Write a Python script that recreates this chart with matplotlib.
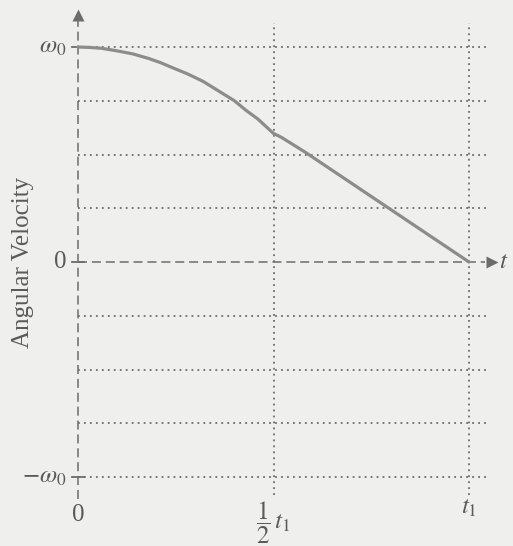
import matplotlib.pyplot as plt
import numpy as np

plt.rcParams['font.family'] = ['Liberation Serif', 'DejaVu Serif']
plt.rcParams['mathtext.fontset'] = 'stix'
plt.rcParams['lines.scale_dashes'] = False

# curve, t in units of t1, omega in units of omega0
t_vals = [0.0, 0.03, 0.06, 0.10, 0.14, 0.18, 0.21, 0.24, 0.28, 0.32, 0.36,
          0.40, 0.43, 0.46, 0.50, 0.52, 0.58, 0.79, 1.0]
w_vals = [1.0, 0.998, 0.994, 0.982, 0.968, 0.947, 0.928, 0.905, 0.875, 0.840,
          0.795, 0.750, 0.705, 0.665, 0.598, 0.580, 0.512, 0.256, 0.0]

grid_levels = [1.0, 0.75, 0.5, 0.25, -0.25, -0.5, -0.75, -1.0]
y_ticks = [1.0, 0.0, -1.0]
y_labels = [r'$\omega_0$', '0', r'$-\omega_0$']
x_ticks = [0.0, 0.5, 1.0]
x_labels = ['0', r'$\dfrac{1}{2}\,t_1$', r'$t_1$']

bg = '#efefed'
ink = '#5a5a5a'
line_c = '#6c6c6c'

fig = plt.figure(figsize=(5.13, 5.46), dpi=100, facecolor=bg)
ax = fig.add_axes([0, 0, 1, 1])
ax.set_facecolor(bg)
# pixel 78 -> t=0, 469 -> t=1 ; pixel 262 -> w=0, 47 -> w=1
ax.set_xlim(-78 / 391, (513 - 78) / 391)
ax.set_ylim(-(546 - 262) / 215, 262 / 215)
ax.axis('off')

dots = (0, (1.3, 3.0))
dashes = (0, (6.5, 3.5))

# dotted grid
for lev in grid_levels:
    ax.plot([0, 1.046], [lev, lev], color=line_c, lw=1.3, ls=dots)
for xv in x_ticks[1:]:
    ax.plot([xv, xv], [-1.085, 1.11], color=line_c, lw=1.3, ls=dots)

# dashed axes with arrow heads
ax.plot([0, 0], [-1.10, 1.12], color=line_c, lw=1.1, ls=dashes)
ax.plot([0, 1.04], [0, 0], color=line_c, lw=1.1, ls=dashes)
ax.plot([0], [1.15], marker='^', ms=8, color=line_c, mec='none')
ax.plot([1.058], [0], marker='>', ms=8, color=line_c, mec='none')

# small ticks across y axis
for yt in y_ticks:
    ax.plot([-0.016, 0.016], [yt, yt], color=line_c, lw=1.3)

# the curve
ax.plot(t_vals, w_vals, color='#8c8c8c', lw=2.3, solid_capstyle='round')

# labels
for yt, lab in zip(y_ticks, y_labels):
    ax.text(-0.03, yt, lab, ha='right', va='center', fontsize=18, color=ink)
ax.text(x_ticks[0], -1.175, x_labels[0], ha='center', va='center', fontsize=18, color=ink)
ax.text(x_ticks[1], -1.21, x_labels[1], ha='center', va='center', fontsize=18, color=ink)
ax.text(x_ticks[2], -1.145, x_labels[2], ha='center', va='center', fontsize=18, color=ink)
ax.text(1.078, 0.0, r'$t$', ha='left', va='center', fontsize=18, color=ink)
ax.text(-0.14, 0.0, 'Angular Velocity', rotation=90, ha='center', va='center',
        fontsize=18, color=ink)

fig.savefig('out.png', dpi=100, facecolor=bg)
